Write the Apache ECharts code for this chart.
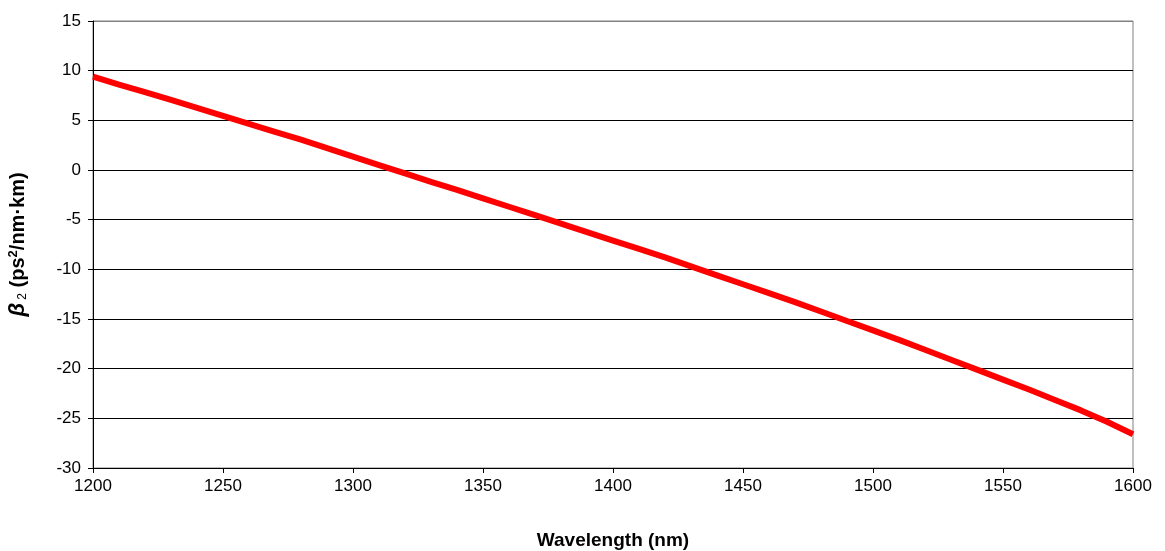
<!DOCTYPE html>
<html>
<head>
<meta charset="utf-8">
<script src="https://cdn.jsdelivr.net/npm/echarts@6/dist/echarts.min.js"></script>
<style>
html,body{margin:0;padding:0;background:#fff;}
#chart{width:1165px;height:551px;}
</style>
</head>
<body>
<div id="chart"></div>
<script>
var wavelengths = [1200,1210,1220,1230,1240,1250,1260,1270,1280,1290,1300,1310,1320,1330,1340,1350,1360,1370,1380,1390,1400,1410,1420,1430,1440,1450,1460,1470,1480,1490,1500,1510,1520,1530,1540,1550,1560,1570,1580,1590,1600];
var beta2 = [9.4,8.6,7.85,7.05,6.25,5.45,4.65,3.85,3.05,2.2,1.35,0.5,-0.35,-1.2,-2.0,-2.85,-3.7,-4.55,-5.4,-6.25,-7.1,-7.95,-8.8,-9.7,-10.6,-11.5,-12.4,-13.3,-14.25,-15.2,-16.15,-17.1,-18.1,-19.1,-20.1,-21.1,-22.1,-23.15,-24.2,-25.35,-26.6];
var xTicks = [1200,1250,1300,1350,1400,1450,1500,1550,1600];
var yTicks = [-30,-25,-20,-15,-10,-5,0,5,10,15];

var seriesData = wavelengths.map(function(w,i){return [w, beta2[i]];});
var gridColors = yTicks.map(function(t){return t === 15 ? '#808080' : '#000000';});

var chart = echarts.init(document.getElementById('chart'));
chart.setOption({
  animation:false,
  backgroundColor:'#ffffff',
  grid:{left:93,right:32,top:21,bottom:83,show:true,borderColor:'#808080',borderWidth:1,outerBoundsMode:'none',containLabel:false},
  xAxis:{
    type:'value',min:1200,max:1600,interval:50,
    name:'Wavelength (nm)',nameLocation:'middle',nameGap:63,
    nameTextStyle:{fontFamily:'Liberation Sans, Arial',fontSize:19,fontWeight:'bold',color:'#000'},
    axisLine:{show:true,onZero:false,lineStyle:{color:'#000',width:1}},
    axisTick:{show:true,length:5,lineStyle:{color:'#000'}},
    axisLabel:{fontFamily:'Liberation Sans, Arial',fontSize:17,color:'#000',margin:10,
      formatter:function(v){return String(v);}},
    splitLine:{show:false}
  },
  yAxis:{
    type:'value',min:-30,max:15,interval:5,
    name:'{b|β}{s| 2}{n| (ps}{p|2}{n|/nm·km)}',nameLocation:'middle',nameGap:64,nameRotate:90,
    nameTextStyle:{
      rich:{
        b:{fontFamily:'Liberation Sans, Arial',fontSize:22,fontWeight:'bold',fontStyle:'italic',color:'#000'},
        s:{fontFamily:'Liberation Sans, Arial',fontSize:12,color:'#000',verticalAlign:'bottom',padding:[7,0,0,0]},
        n:{fontFamily:'Liberation Sans, Arial',fontSize:20,fontWeight:'bold',color:'#000'},
        p:{fontFamily:'Liberation Sans, Arial',fontSize:13,fontWeight:'bold',color:'#000',verticalAlign:'top',padding:[0,0,8,0]}
      }
    },
    axisLine:{show:true,lineStyle:{color:'#000',width:1}},
    axisTick:{show:true,length:5,lineStyle:{color:'#000'}},
    axisLabel:{fontFamily:'Liberation Sans, Arial',fontSize:17,color:'#000',margin:12},
    splitLine:{show:true,lineStyle:{color:gridColors,width:1}}
  },
  series:[{
    type:'line',data:seriesData,
    showSymbol:false,smooth:false,
    lineStyle:{color:'#ff0000',width:6},
    itemStyle:{color:'#ff0000'}
  }]
});
</script>
</body>
</html>
